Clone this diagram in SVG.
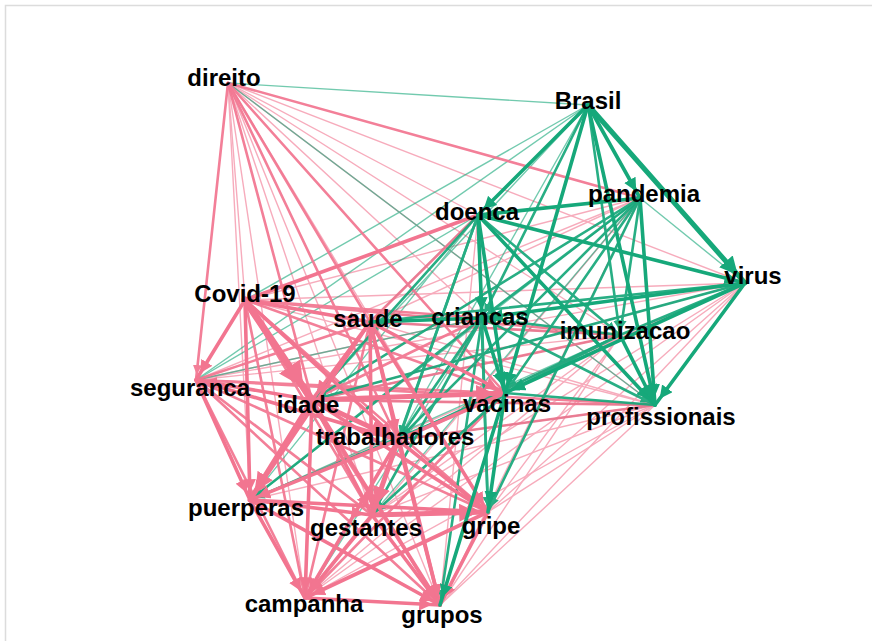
<svg xmlns="http://www.w3.org/2000/svg" width="872" height="641" viewBox="0 0 872 641">
<defs>
<style>
line{fill:none;stroke-linecap:round}
.p{stroke:#f27590}
.g{stroke:#16a87a}
.w1{stroke-width:1.4;opacity:.6}
.w2{stroke-width:2.6;opacity:.92}
.w3{stroke-width:3.6}
.w4{stroke-width:5}
.w5{stroke-width:7}
.ap{marker-end:url(#mp)}
.ag{marker-end:url(#mg)}
text{font-family:"Liberation Sans",Arial,sans-serif;font-weight:bold;font-size:24px;fill:#000;text-anchor:middle}
</style>
<marker id="mp" viewBox="0 0 10 10" refX="16" refY="5" markerWidth="3.6" markerHeight="3.6" orient="auto" markerUnits="strokeWidth"><path d="M0,0L10,5L0,10z" fill="#f27590"/></marker>
<marker id="mg" viewBox="0 0 10 10" refX="16" refY="5" markerWidth="3.6" markerHeight="3.6" orient="auto" markerUnits="strokeWidth"><path d="M0,0L10,5L0,10z" fill="#16a87a"/></marker>
</defs>
<rect width="872" height="641" fill="#fff"/>
<path d="M5.5,641V5.5H872" fill="none" stroke="#dcdcdc" stroke-width="1.5"/>
<g id="connectors">
<g class="p w1">
<line x1="228" y1="83" x2="245" y2="300"/>
<line x1="228" y1="83" x2="250" y2="500"/>
<line x1="228" y1="83" x2="372" y2="515"/>
<line x1="228" y1="83" x2="482" y2="318"/>
<line x1="228" y1="83" x2="620" y2="335"/>
<line x1="228" y1="83" x2="655" y2="405"/>
<line x1="228" y1="83" x2="745" y2="283"/>
<line x1="228" y1="83" x2="478" y2="215"/>
<line x1="228" y1="83" x2="305" y2="598"/>
<line x1="228" y1="83" x2="440" y2="605"/>
<line x1="228" y1="83" x2="488" y2="512"/>
<line x1="245" y1="300" x2="655" y2="405"/>
<line x1="245" y1="300" x2="745" y2="283"/>
<line x1="745" y1="283" x2="196" y2="380"/>
<line x1="745" y1="283" x2="488" y2="512"/>
<line x1="745" y1="283" x2="440" y2="605"/>
<line x1="745" y1="283" x2="372" y2="515"/>
<line x1="745" y1="283" x2="305" y2="598"/>
<line x1="745" y1="283" x2="250" y2="500"/>
<line x1="745" y1="283" x2="398" y2="440"/>
<line x1="745" y1="283" x2="312" y2="400"/>
<line x1="620" y1="335" x2="488" y2="512"/>
<line x1="620" y1="335" x2="440" y2="605"/>
<line x1="620" y1="335" x2="372" y2="515"/>
<line x1="620" y1="335" x2="305" y2="598"/>
<line x1="655" y1="405" x2="488" y2="512"/>
<line x1="655" y1="405" x2="440" y2="605"/>
<line x1="655" y1="405" x2="372" y2="515"/>
<line x1="655" y1="405" x2="305" y2="598"/>
<line x1="655" y1="405" x2="250" y2="500"/>
<line x1="370" y1="322" x2="655" y2="405"/>
<line x1="196" y1="380" x2="620" y2="335"/>
<line x1="196" y1="380" x2="482" y2="318"/>
<line x1="398" y1="440" x2="620" y2="335"/>
<line x1="640" y1="198" x2="440" y2="605"/>
<line x1="640" y1="198" x2="305" y2="598"/>
<line x1="478" y1="215" x2="440" y2="605"/>
<line x1="640" y1="198" x2="196" y2="380"/>
<line x1="640" y1="198" x2="245" y2="300"/>
<line x1="640" y1="198" x2="370" y2="322"/>
</g>
<g class="g w1">
<line x1="228" y1="83" x2="588" y2="105"/>
<line x1="228" y1="83" x2="655" y2="405"/>
<line x1="588" y1="105" x2="370" y2="322"/>
<line x1="588" y1="105" x2="312" y2="400"/>
<line x1="588" y1="105" x2="245" y2="300"/>
<line x1="588" y1="105" x2="196" y2="380"/>
<line x1="588" y1="105" x2="398" y2="440"/>
<line x1="640" y1="198" x2="745" y2="283"/>
<line x1="640" y1="198" x2="250" y2="500"/>
<line x1="640" y1="198" x2="372" y2="515"/>
<line x1="478" y1="215" x2="250" y2="500"/>
<line x1="478" y1="215" x2="196" y2="380"/>
<line x1="478" y1="215" x2="245" y2="300"/>
<line x1="745" y1="283" x2="398" y2="440"/>
<line x1="482" y1="318" x2="196" y2="380"/>
<line x1="620" y1="335" x2="312" y2="400"/>
<line x1="620" y1="335" x2="370" y2="322"/>
<line x1="620" y1="335" x2="250" y2="500"/>
<line x1="655" y1="405" x2="398" y2="440"/>
<line x1="655" y1="405" x2="312" y2="400"/>
<line x1="305" y1="598" x2="482" y2="318"/>
</g>
<g class="p w2">
<line class="ap" x1="228" y1="83" x2="196" y2="380"/>
<line x1="228" y1="83" x2="370" y2="322"/>
<line x1="228" y1="83" x2="312" y2="400"/>
<line x1="228" y1="83" x2="398" y2="440"/>
<line x1="228" y1="83" x2="505" y2="393"/>
<line x1="228" y1="83" x2="640" y2="198"/>
<line x1="245" y1="300" x2="372" y2="515"/>
<line x1="245" y1="300" x2="505" y2="393"/>
<line x1="245" y1="300" x2="482" y2="318"/>
<line x1="245" y1="300" x2="620" y2="335"/>
<line x1="245" y1="300" x2="305" y2="598"/>
<line x1="245" y1="300" x2="440" y2="605"/>
<line x1="245" y1="300" x2="488" y2="512"/>
<line x1="370" y1="322" x2="305" y2="598"/>
<line x1="370" y1="322" x2="196" y2="380"/>
<line x1="370" y1="322" x2="620" y2="335"/>
<line x1="312" y1="400" x2="655" y2="405"/>
<line x1="312" y1="400" x2="620" y2="335"/>
<line x1="398" y1="440" x2="655" y2="405"/>
<line x1="372" y1="515" x2="196" y2="380"/>
<line x1="196" y1="380" x2="305" y2="598"/>
<line x1="196" y1="380" x2="440" y2="605"/>
<line x1="196" y1="380" x2="488" y2="512"/>
<line x1="196" y1="380" x2="505" y2="393"/>
<line x1="196" y1="380" x2="655" y2="405"/>
<line x1="505" y1="393" x2="305" y2="598"/>
<line x1="478" y1="215" x2="370" y2="322"/>
<line x1="482" y1="318" x2="312" y2="400"/>
</g>
<g class="g w2">
<line class="ag" x1="588" y1="105" x2="482" y2="318"/>
<line class="ag" x1="588" y1="105" x2="620" y2="335"/>
<line class="ag" x1="640" y1="198" x2="482" y2="318"/>
<line class="ag" x1="640" y1="198" x2="505" y2="393"/>
<line class="ag" x1="640" y1="198" x2="620" y2="335"/>
<line class="ag" x1="640" y1="198" x2="312" y2="400"/>
<line class="ag" x1="640" y1="198" x2="398" y2="440"/>
<line class="ag" x1="640" y1="198" x2="488" y2="512"/>
<line class="ag" x1="478" y1="215" x2="620" y2="335"/>
<line class="ag" x1="478" y1="215" x2="312" y2="400"/>
<line class="ag" x1="478" y1="215" x2="398" y2="440"/>
<line class="ag" x1="478" y1="215" x2="372" y2="515"/>
<line class="ag" x1="478" y1="215" x2="488" y2="512"/>
<line x1="745" y1="283" x2="620" y2="335"/>
<line class="ag" x1="745" y1="283" x2="370" y2="322"/>
<line class="ag" x1="482" y1="318" x2="655" y2="405"/>
<line x1="482" y1="318" x2="620" y2="335"/>
<line class="ag" x1="482" y1="318" x2="398" y2="440"/>
<line class="ag" x1="482" y1="318" x2="488" y2="512"/>
<line class="ag" x1="482" y1="318" x2="372" y2="515"/>
<line class="ag" x1="482" y1="318" x2="250" y2="500"/>
<line class="ag" x1="482" y1="318" x2="440" y2="605"/>
<line class="ag" x1="620" y1="335" x2="505" y2="393"/>
<line x1="620" y1="335" x2="398" y2="440"/>
<line x1="505" y1="393" x2="655" y2="405"/>
<line class="ag" x1="505" y1="393" x2="398" y2="440"/>
<line class="ag" x1="505" y1="393" x2="250" y2="500"/>
<line class="ag" x1="505" y1="393" x2="372" y2="515"/>
<line class="ag" x1="745" y1="283" x2="312" y2="400"/>
</g>
<g class="p w3">
<line class="ap" x1="245" y1="300" x2="196" y2="380"/>
<line class="ap" x1="245" y1="300" x2="370" y2="322"/>
<line class="ap" x1="245" y1="300" x2="398" y2="440"/>
<line class="ap" x1="245" y1="300" x2="250" y2="500"/>
<line x1="245" y1="300" x2="478" y2="215"/>
<line class="ap" x1="370" y1="322" x2="312" y2="400"/>
<line class="ap" x1="370" y1="322" x2="398" y2="440"/>
<line class="ap" x1="370" y1="322" x2="505" y2="393"/>
<line class="ap" x1="370" y1="322" x2="250" y2="500"/>
<line class="ap" x1="370" y1="322" x2="372" y2="515"/>
<line class="ap" x1="370" y1="322" x2="488" y2="512"/>
<line class="ap" x1="370" y1="322" x2="440" y2="605"/>
<line class="ap" x1="312" y1="400" x2="372" y2="515"/>
<line class="ap" x1="312" y1="400" x2="488" y2="512"/>
<line class="ap" x1="312" y1="400" x2="305" y2="598"/>
<line class="ap" x1="312" y1="400" x2="440" y2="605"/>
<line class="ap" x1="312" y1="400" x2="196" y2="380"/>
<line class="ap" x1="398" y1="440" x2="250" y2="500"/>
<line class="ap" x1="398" y1="440" x2="488" y2="512"/>
<line class="ap" x1="398" y1="440" x2="440" y2="605"/>
<line class="ap" x1="398" y1="440" x2="305" y2="598"/>
<line x1="398" y1="440" x2="196" y2="380"/>
<line x1="398" y1="440" x2="505" y2="393"/>
<line class="ap" x1="250" y1="500" x2="372" y2="515"/>
<line class="ap" x1="250" y1="500" x2="488" y2="512"/>
<line class="ap" x1="250" y1="500" x2="305" y2="598"/>
<line class="ap" x1="250" y1="500" x2="440" y2="605"/>
<line class="ap" x1="196" y1="380" x2="250" y2="500"/>
<line class="ap" x1="372" y1="515" x2="305" y2="598"/>
<line class="ap" x1="372" y1="515" x2="440" y2="605"/>
<line class="ap" x1="488" y1="512" x2="305" y2="598"/>
<line class="ap" x1="488" y1="512" x2="440" y2="605"/>
<line class="ap" x1="305" y1="598" x2="440" y2="605"/>
</g>
<g class="p w4">
<line class="ap" x1="312" y1="400" x2="398" y2="440"/>
<line class="ap" x1="312" y1="400" x2="250" y2="500"/>
<line class="ap" x1="398" y1="440" x2="372" y2="515"/>
<line class="ap" x1="372" y1="515" x2="488" y2="512"/>
<line class="ap" x1="312" y1="400" x2="505" y2="393"/>
</g>
<g class="p w5">
<line class="ap" x1="245" y1="300" x2="312" y2="400"/>
</g>
<g class="g w3">
<line class="ag" x1="588" y1="105" x2="478" y2="215"/>
<line class="ag" x1="588" y1="105" x2="640" y2="198"/>
<line class="ag" x1="588" y1="105" x2="505" y2="393"/>
<line class="ag" x1="588" y1="105" x2="655" y2="405"/>
<line class="ag" x1="640" y1="198" x2="478" y2="215"/>
<line class="ag" x1="640" y1="198" x2="655" y2="405"/>
<line class="ag" x1="478" y1="215" x2="482" y2="318"/>
<line class="ag" x1="478" y1="215" x2="505" y2="393"/>
<line class="ag" x1="478" y1="215" x2="655" y2="405"/>
<line class="ag" x1="478" y1="215" x2="745" y2="283"/>
<line class="ag" x1="745" y1="283" x2="482" y2="318"/>
<line class="ag" x1="745" y1="283" x2="505" y2="393"/>
<line class="ag" x1="745" y1="283" x2="655" y2="405"/>
<line class="ag" x1="482" y1="318" x2="505" y2="393"/>
<line x1="482" y1="318" x2="370" y2="322"/>
<line class="ag" x1="620" y1="335" x2="655" y2="405"/>
<line class="ag" x1="505" y1="393" x2="488" y2="512"/>
<line class="ag" x1="505" y1="393" x2="440" y2="605"/>
</g>
<g class="g w4">
<line class="ag" x1="588" y1="105" x2="745" y2="283"/>
</g>
</g>
<g id="n-direito"><text x="224" y="86">direito</text></g>
<g id="n-brasil"><text x="588" y="109">Brasil</text></g>
<g id="n-pandemia"><text x="644" y="202">pandemia</text></g>
<g id="n-doenca"><text x="477" y="220">doenca</text></g>
<g id="n-virus"><text x="753" y="284">virus</text></g>
<g id="n-covid19"><text x="245" y="302">Covid-19</text></g>
<g id="n-saude"><text x="368" y="327">saude</text></g>
<g id="n-criancas"><text x="480" y="325">criancas</text></g>
<g id="n-imunizacao"><text x="625" y="339">imunizacao</text></g>
<g id="n-seguranca"><text x="190" y="396">seguranca</text></g>
<g id="n-idade"><text x="308" y="413">idade</text></g>
<g id="n-vacinas"><text x="507" y="412">vacinas</text></g>
<g id="n-profissionais"><text x="661" y="425">profissionais</text></g>
<g id="n-trabalhadores"><text x="395" y="445">trabalhadores</text></g>
<g id="n-puerperas"><text x="246" y="516">puerperas</text></g>
<g id="n-gestantes"><text x="366" y="536">gestantes</text></g>
<g id="n-gripe"><text x="491" y="534">gripe</text></g>
<g id="n-campanha"><text x="304" y="612">campanha</text></g>
<g id="n-grupos"><text x="442" y="623">grupos</text></g>
</svg>
